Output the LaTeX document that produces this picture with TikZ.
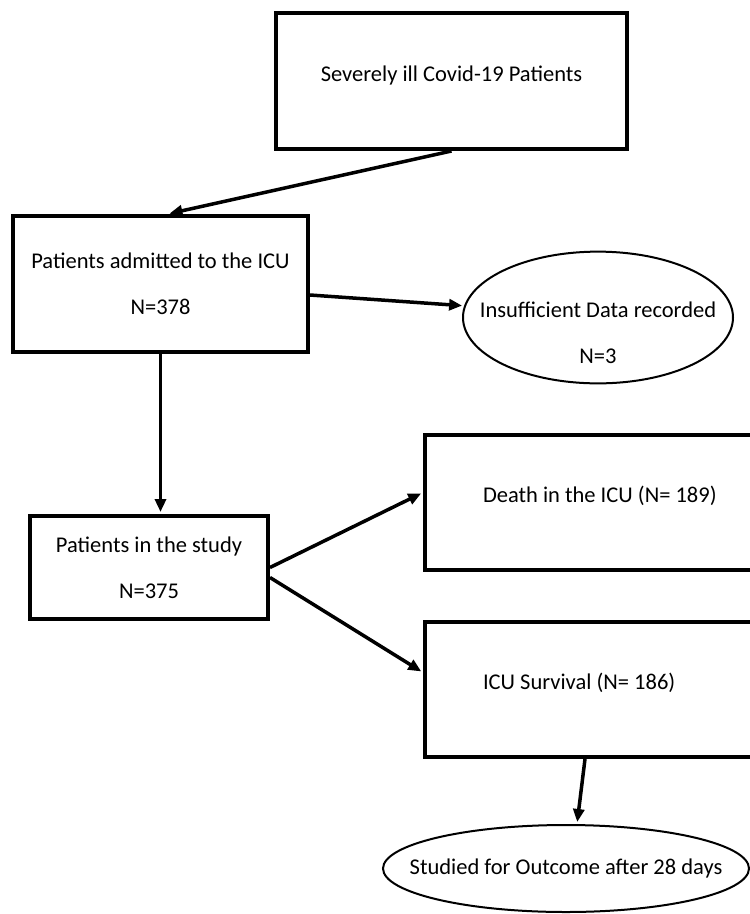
\documentclass[tikz,border=0pt]{standalone}
\usepackage{fontspec}
\setmainfont{Carlito}
\usetikzlibrary{shapes.geometric}
\usetikzlibrary{positioning}
\usetikzlibrary{arrows.meta}

\begin{document}
\begin{tikzpicture}[x = 1pt, y = -1pt, black, font = \fontsize{22.5}{27}\selectfont,
    stagebox/.style = {draw, rectangle, line width = 4pt, align = center, inner sep = 0pt},
    outbox/.style = {draw, rectangle, line width = 4pt, anchor = west, text width = 300pt, inner xsep = 58pt, inner ysep = 0pt, align = flush left, minimum height = 135pt, text height = 14pt, text depth = 14pt},
    exitoval/.style = {draw, ellipse, line width = 2pt, align = center, inner xsep = -35pt, inner ysep = 0pt},
    flow/.style = {-{Triangle[length = 13pt, width = 11pt]}, line width = 3.5pt, shorten > = 2pt}]

    \useasboundingbox[clip] (0,0) rectangle (750,914);

    % main stages
    \node (covid) at (451.5,81) [stagebox, minimum width = 351pt, minimum height = 136pt, text height = 14pt, text depth = 14pt] {Severely ill Covid-19 Patients};
    \node (icu) at (160.5,284) [stagebox, minimum width = 295pt, minimum height = 136pt] {Patients admitted to the ICU\\[19pt]N=378};
    \node (study) at (149,567.5) [stagebox, minimum width = 238pt, minimum height = 103pt] {Patients in the study\\[19pt]N=375};

    % exits and outcomes
    \node (insuf) at (598,317.5) [exitoval, minimum width = 270pt, minimum height = 129pt, text height = 93pt] {Insufficient Data recorded\\[19pt]N=3};
    \node (death) at (423,502.5) [outbox] {Death in the ICU (N= 189)};
    \node (surv) at (423,689.5) [outbox] {ICU Survival (N= 186)};
    \node (outcome) at (566,868.5) [exitoval, minimum width = 366pt, minimum height = 87pt] {Studied for Outcome after 28 days};

    \draw[flow] (covid.south) -- ([xshift = 7pt]icu.north);
    \draw[flow] ([yshift = -11pt]icu.east) -- (insuf.175);
    \draw[flow] (icu.south) -- (icu.south |- study.north);
    \draw[flow] (study.east) -- ([yshift = 10pt]death.west);
    \draw[flow] ([yshift = -10pt]study.east) -- ([yshift = 17pt]surv.west);
    \draw[flow] ([xshift = 162pt]surv.south west) -- ([xshift = 11pt]outcome.north);

\end{tikzpicture}
\end{document}
